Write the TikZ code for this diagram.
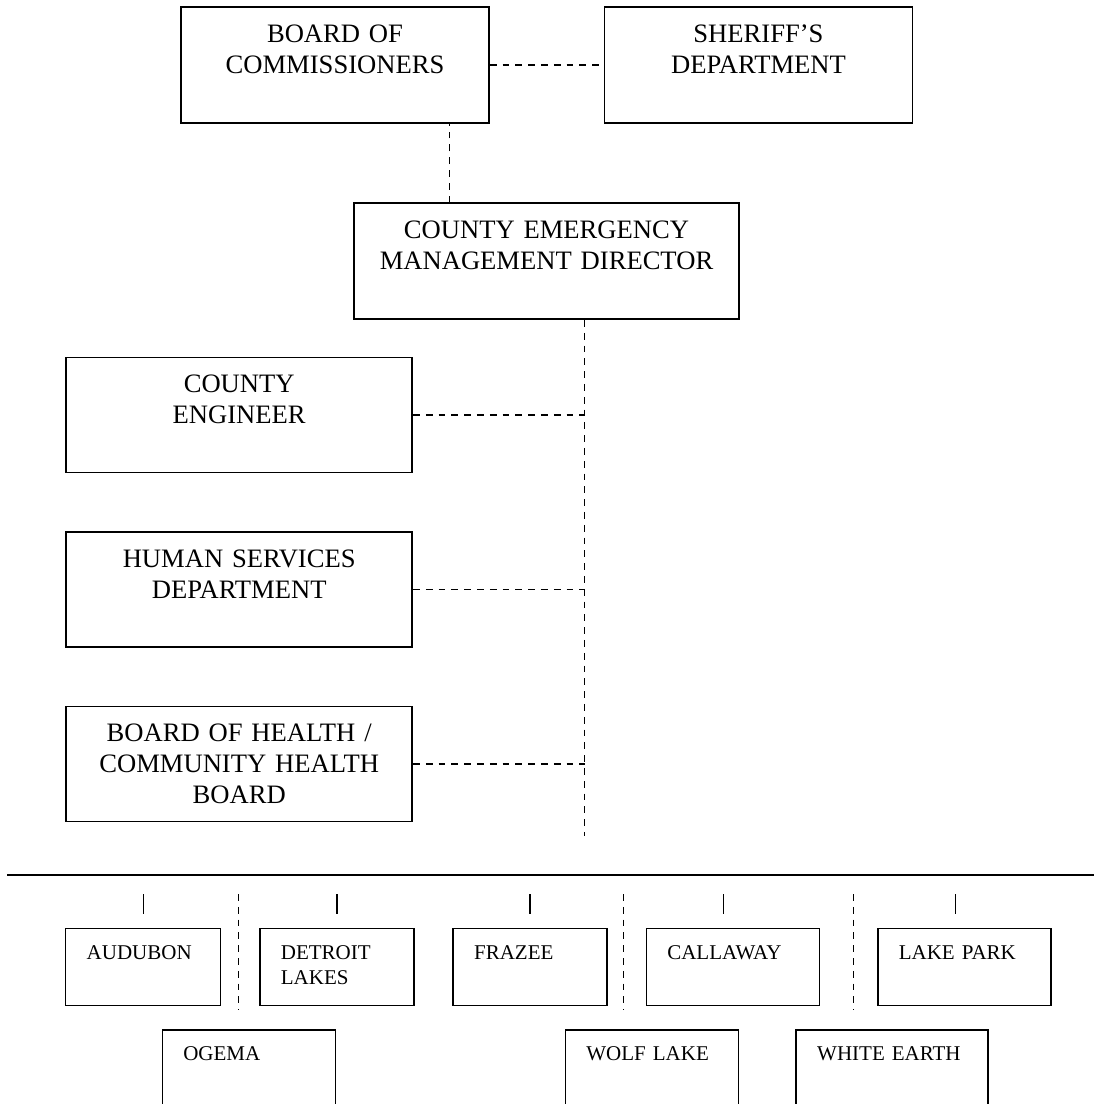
\documentclass[tikz,border=0pt]{standalone}
\usepackage{fontspec}
\setmainfont{Liberation Serif}
\usepackage{tikz}
\usetikzlibrary{positioning}
\tikzstyle{bigbox} = [rectangle, draw, line width=0.75pt, inner sep=0pt, align=center, text width=154pt, text height=17.75pt, text depth=40.25pt, font=\fontsize{13.3}{15.5}\selectfont]
\tikzstyle{sidebox} = [bigbox, text width=173pt, text depth=39.95pt]
\tikzstyle{townbox} = [rectangle, draw, line width=0.75pt, inner xsep=10.5pt, inner ysep=0pt, align=left, text height=15.35pt, text depth=23.15pt, font=\fontsize{10.5}{12.3}\selectfont]
\tikzstyle{link} = [draw, line width=0.7pt, dash pattern=on 3.4pt off 3pt]
\tikzstyle{tick} = [draw, line width=0.7pt]
\begin{document}
\begin{tikzpicture}[x=0.5pt, y=-0.5pt]
\useasboundingbox (0,0) rectangle (1094,1104);
\clip (0,0) rectangle (1094,1104);

\node [bigbox] (BC) at (335,65) {BOARD OF\\COMMISSIONERS};
\node [bigbox, right=57pt of BC] (SD) {SHERIFF'S\\DEPARTMENT};
\node [bigbox, text width=192.5pt] (CE) at (546.5,261.2) {COUNTY EMERGENCY\\MANAGEMENT DIRECTOR};

\node [sidebox] (EN) at (239.2,415) {COUNTY\\ENGINEER};
\node [sidebox, below=28.8pt of EN] (HS) {HUMAN SERVICES\\DEPARTMENT};
\node [sidebox, below=28.8pt of HS] (HB) {BOARD OF HEALTH /\\COMMUNITY HEALTH\\BOARD};

\coordinate (trunk) at (584.7,836);

\path [link] (BC) -- (SD);
\path [link] ([xshift=48.15pt]CE.north west) -- ([xshift=48.15pt]CE.north west |- BC.south);
\path [link] (CE.south -| trunk) -- (trunk);
\path [link] (EN) -- (EN -| trunk);
\path [link] (HS) -- (HS -| trunk);
\path [link] (HB) -- (HB -| trunk);

% townships
\draw [line width=0.85pt] (7.3,875) -- (1094,875);

\node [townbox, text width=56.5pt] (AU) at (143.2,967.2) {AUDUBON};
\node [townbox, text width=56pt, right=18.85pt of AU] (DL) {DETROIT\\LAKES};
\node [townbox, text width=56pt, right=18.85pt of DL] (FR) {FRAZEE};
\node [townbox, text width=65.5pt, right=18.85pt of FR] (CA) {CALLAWAY};
\node [townbox, text width=65.5pt, right=28.5pt of CA] (LP) {LAKE PARK};

\node [townbox, text width=65.5pt, text depth=42pt, anchor=north] (OG) at (248.8,1029) {OGEMA};
\node [townbox, text width=65.5pt, text depth=42pt, anchor=north] (WL) at (651.9,1029) {WOLF LAKE};
\node [townbox, text width=75pt, text depth=42pt, anchor=north] (WE) at (892.2,1029) {WHITE EARTH};

\foreach \n/\s in {AU/0, DL/0, FR/0, CA/-4.8, LP/-4.3}
  \path [tick] ([xshift=\s pt, yshift=7.2pt]\n.north) -- ++(0,-20);

\foreach \x in {238.3,623.3,853.3}
  \path [link] (\x,894) -- (\x,1010);

\end{tikzpicture}
\end{document}
